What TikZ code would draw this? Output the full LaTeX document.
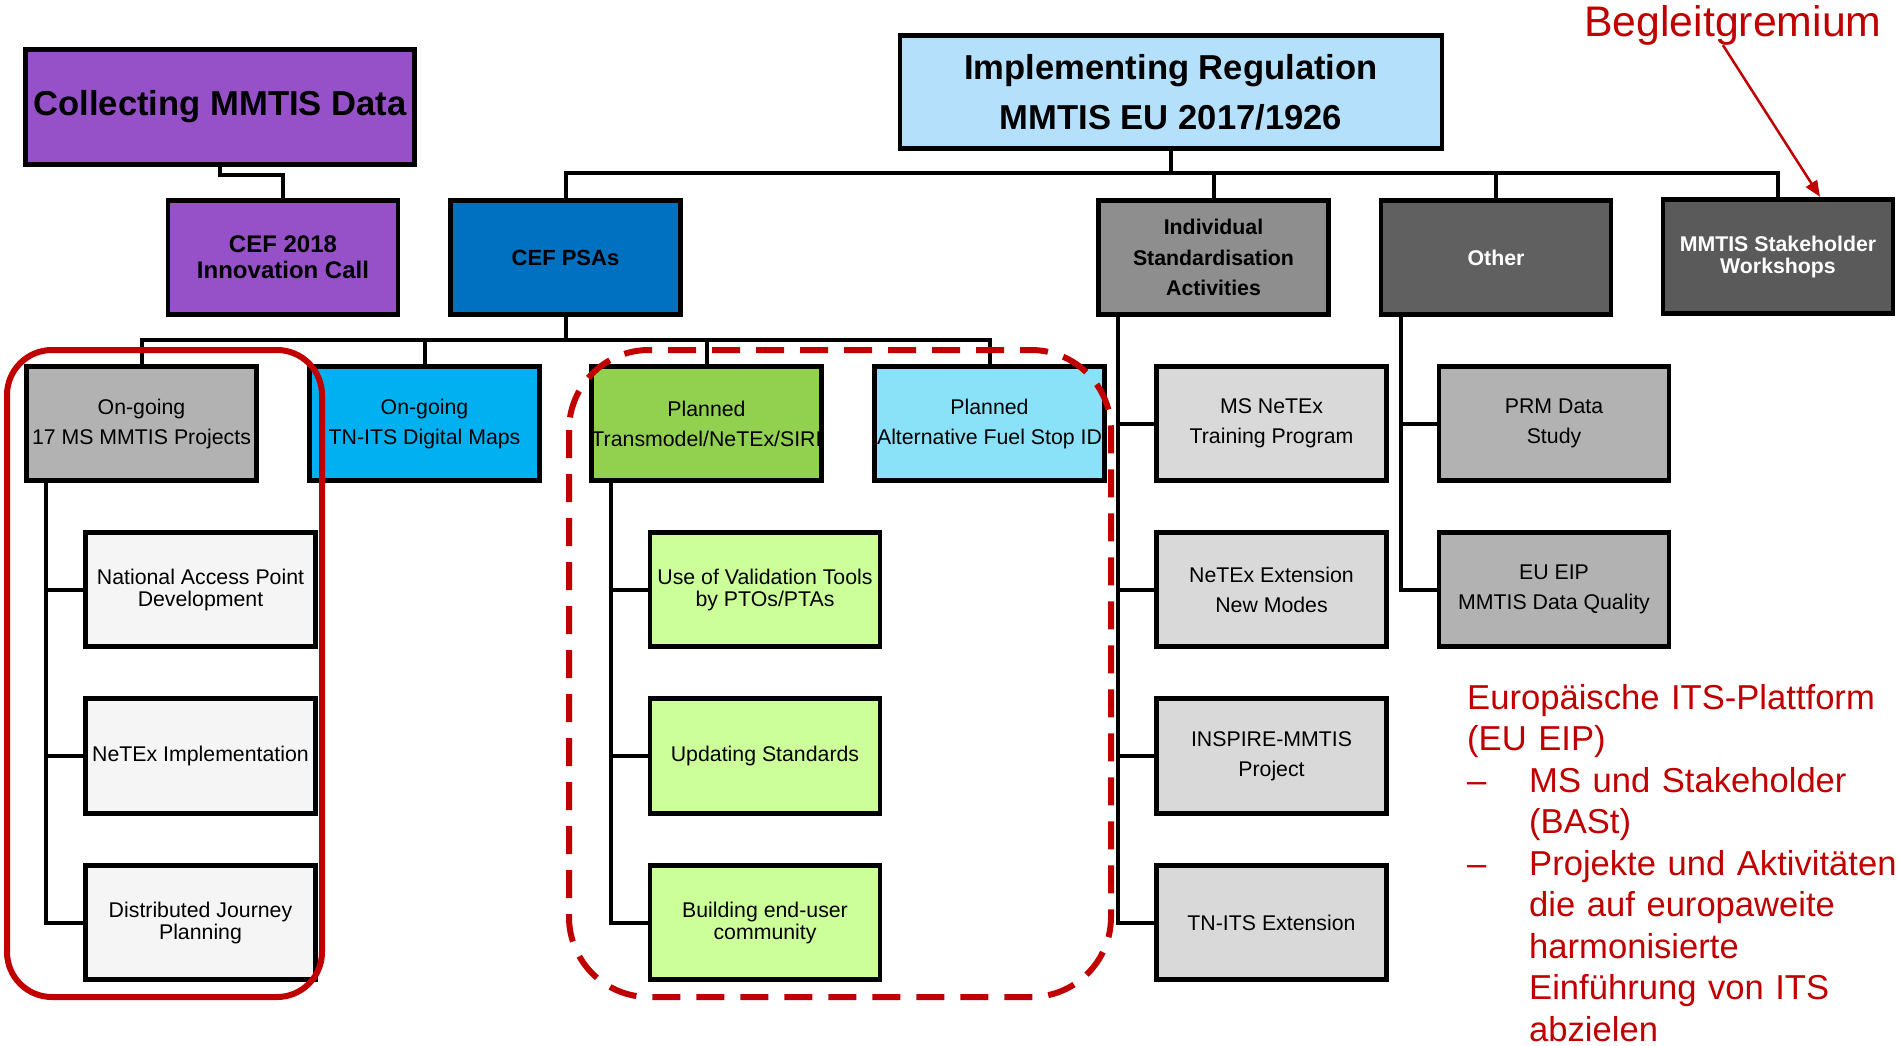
\documentclass[tikz,border=0pt]{standalone}
\usepackage{fontspec}
\setmainfont{Liberation Sans}
\usetikzlibrary{arrows.meta,positioning}
\definecolor{mmtisred}{RGB}{192,0,0}
\definecolor{collpurple}{RGB}{150,80,200}
\definecolor{implblue}{RGB}{180,224,252}
\definecolor{psablue}{RGB}{0,112,192}
\definecolor{ongray}{RGB}{178,178,178}
\definecolor{tnitsblue}{RGB}{0,176,240}
\definecolor{transgreen}{RGB}{146,208,80}
\definecolor{fuelcyan}{RGB}{138,226,248}
\definecolor{childwhite}{RGB}{245,245,245}
\definecolor{childgreen}{RGB}{204,255,153}
\definecolor{indivgray}{RGB}{142,142,142}
\definecolor{othergray}{RGB}{96,96,96}
\definecolor{workgray}{RGB}{90,90,90}
\definecolor{rightgray}{RGB}{217,217,217}

\begin{document}
\begin{tikzpicture}[x=1pt,y=-1pt,
    box/.style={draw=black,line width=4.8pt,minimum width=230pt,minimum height=114.5pt,inner sep=0pt,align=center,font=\fontsize{21.3}{30}\selectfont},
    topbox/.style={box,font=\bfseries\fontsize{21.3}{30.5}\selectfont},
    subbox/.style={box,font=\fontsize{21.3}{22}\selectfont},
    bus/.style={line width=4pt}]
  \useasboundingbox (0,0) rectangle (1897,1045);
  % top level
  \node[box,fill=collpurple,minimum width=389.5pt,minimum height=115.5pt,font=\bfseries\fontsize{34.6}{40}\selectfont] (coll) at (220,107) {Collecting MMTIS Data};
  \node[box,fill=implblue,minimum width=542pt,minimum height=113.5pt,font=\bfseries\fontsize{34.6}{50}\selectfont] (impl) at (1171,92) {Implementing Regulation\\MMTIS EU 2017/1926};
  % second level
  \node[topbox,fill=collpurple,font=\bfseries\fontsize{24}{26}\selectfont] (cef18) at (283,257.5) {CEF 2018\\Innovation Call};
  \node[topbox,fill=psablue,font=\bfseries\fontsize{22}{26}\selectfont] (psa) at (565.5,257.5) {CEF PSAs};
  \node[topbox,fill=indivgray] (indiv) at (1213.5,257.5) {Individual\\Standardisation\\Activities};
  \node[topbox,fill=othergray,text=white] (other) at (1496,257.5) {Other};
  \node[topbox,fill=workgray,text=white,font=\bfseries\fontsize{21.3}{22}\selectfont] (work) at (1778,256.5) {MMTIS Stakeholder\\Workshops};
  \draw[bus] (coll.south) -- ++(0,8) -| (cef18.north);
  \coordinate (topbus) at (1171,173);
  \draw[bus] (impl.south) -- (topbus);
  \foreach \n in {psa,indiv,other,work}
    \draw[bus] (\n.north) |- (topbus);
  % third level
  \node[box,fill=ongray] (ong) at (141.5,423.5) {On-going\\17 MS MMTIS Projects};
  \node[box,fill=tnitsblue] (tnits) at (424.5,423.5) {On-going\\TN-ITS Digital Maps};
  \node[box,fill=transgreen] (trans) at (706.5,423.5) {Planned\\Transmodel/NeTEx/SIRI};
  \node[box,fill=fuelcyan] (fuel) at (989.5,423.5) {Planned\\Alternative Fuel Stop ID};
  \coordinate (midbus) at (565.5,340);
  \draw[bus] (psa.south) -- (midbus);
  \foreach \n in {ong,tnits,trans,fuel}
    \draw[bus] (\n.north) |- (midbus);
  % children
  \foreach \n/\y/\t in {nap/589.5/{National Access Point\\Development},neximp/756/{NeTEx Implementation},djp/922.5/{Distributed Journey\\Planning}}{
    \node[subbox,fill=childwhite] (\n) at (200.5,\y) {\t};
    \draw[bus] ([xshift=21.5pt]ong.south west) |- (\n.west);
  }
  \foreach \n/\y/\t in {valid/589.5/{Use of Validation Tools\\by PTOs/PTAs},updstd/756/{Updating Standards},enduser/922.5/{Building end-user\\community}}{
    \node[subbox,fill=childgreen] (\n) at (765,\y) {\t};
    \draw[bus] ([xshift=22pt]trans.south west) |- (\n.west);
  }
  \foreach \n/\y/\t in {msnetex/423.5/{MS NeTEx\\Training Program},netexext/589.5/{NeTEx Extension\\New Modes},inspire/756/{INSPIRE-MMTIS\\Project},tnitsext/922.5/{TN-ITS Extension}}{
    \node[box,fill=rightgray] (\n) at (1271.5,\y) {\t};
    \draw[bus] ([xshift=22pt]indiv.south west) |- (\n.west);
  }
  \foreach \n/\y/\t in {prm/423.5/{PRM Data\\Study},eueip/589.5/{EU EIP\\MMTIS Data Quality}}{
    \node[box,fill=ongray] (\n) at (1554,\y) {\t};
    \draw[bus] ([xshift=22pt]other.south west) |- (\n.west);
  }
  % red marks
  \draw[mmtisred,line width=6pt,rounded corners=45pt] (7,350) rectangle (322,997);
  \draw[mmtisred,line width=6pt,dash pattern=on 28pt off 16pt,rounded corners=80pt] (569,350) rectangle (1111,997);
  \node[anchor=base west,inner sep=0pt,text=mmtisred,font=\fontsize{42.8}{50}\selectfont] (beg) at (1584,36) {Begleitgremium};
  \draw[mmtisred,line width=2.5pt,-{Triangle[length=16pt,width=13pt]}] ([xshift=-10pt]beg.south) -- ([xshift=42pt]work.north);
  \node[anchor=base west,inner sep=0pt,text width=440pt,align=left,text=mmtisred,font=\fontsize{34.6}{41.5}\selectfont] (eip) at (1467,709) {Europäische ITS-Plattform\\(EU EIP)\\\makebox[62pt][l]{–}MS und Stakeholder\\\hspace*{62pt}(BASt)\\\makebox[62pt][l]{–}Projekte und Aktivitäten\\\hspace*{62pt}die auf europaweite\\\hspace*{62pt}harmonisierte\\\hspace*{62pt}Einführung von ITS\\\hspace*{62pt}abzielen};
\end{tikzpicture}
\end{document}
